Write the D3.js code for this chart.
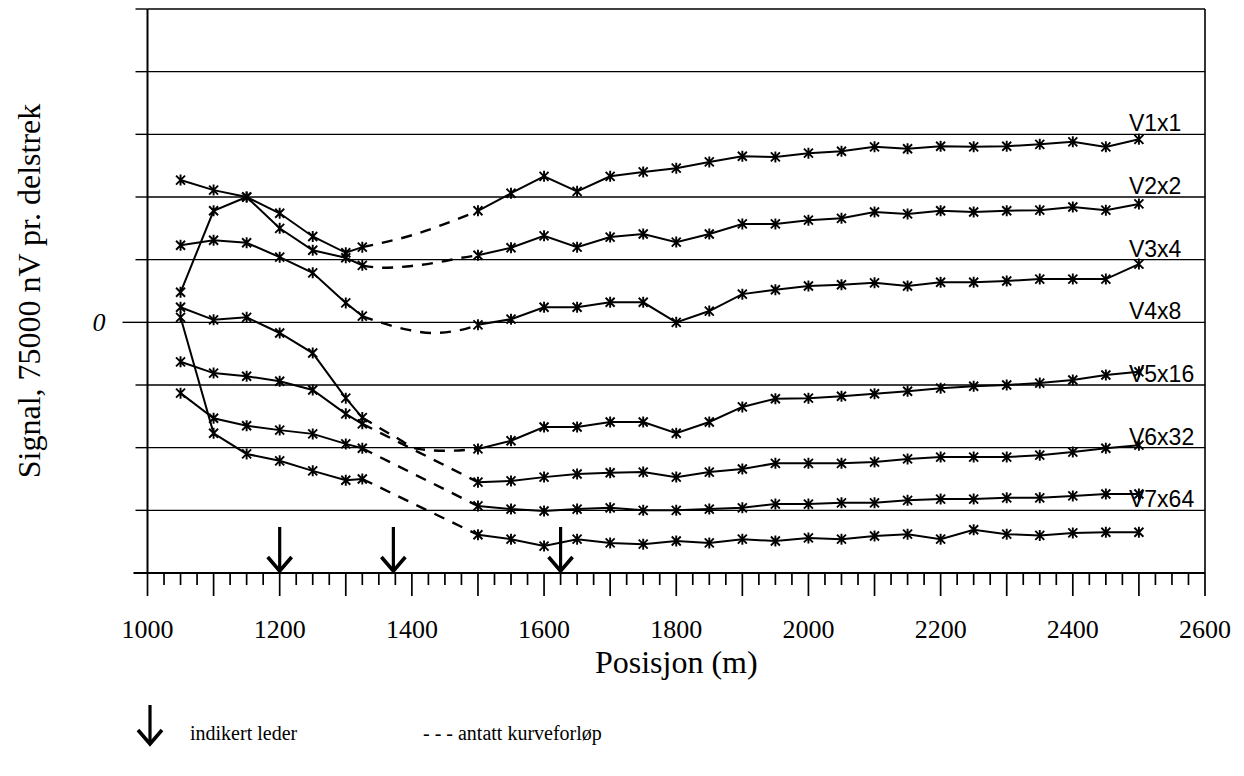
<!DOCTYPE html>
<html><head><meta charset="utf-8">
<script src="https://cdn.jsdelivr.net/npm/d3@7"></script>
<style>body{margin:0;background:#fff}svg{display:block}</style>
</head><body>
<svg id="c" width="1244" height="776"></svg>
<script>
// ---- data ----
const xFirst = [1050, 1100, 1150, 1200, 1250, 1300, 1325];
const xSecond = [1500, 1550, 1600, 1650, 1700, 1750, 1800, 1850, 1900, 1950, 2000,
                 2050, 2100, 2150, 2200, 2250, 2300, 2350, 2400, 2450, 2500];

const v1First = [2.27, 2.11, 2.00, 1.74, 1.37, 1.11, 1.20];
const v1Gap = [[1325, 1.20], [1400, 1.39], [1450, 1.57], [1500, 1.78]];
const v1Second = [1.78, 2.06, 2.33, 2.09, 2.33, 2.40, 2.46, 2.56, 2.65, 2.64, 2.70,
                  2.73, 2.80, 2.77, 2.81, 2.80, 2.81, 2.84, 2.88, 2.80, 2.92];

const v2First = [0.48, 1.78, 2.00, 1.50, 1.15, 1.03, 0.91];
const v2Gap = [[1325, 0.91], [1355, 0.87], [1400, 0.90], [1440, 0.96], [1475, 1.03], [1500, 1.07]];
const v2Second = [1.07, 1.19, 1.38, 1.20, 1.36, 1.41, 1.28, 1.41, 1.57, 1.57, 1.63,
                  1.66, 1.76, 1.73, 1.78, 1.76, 1.78, 1.79, 1.84, 1.79, 1.89];

const v3First = [1.23, 1.31, 1.27, 1.04, 0.79, 0.31, 0.10];
const v3Gap = [[1325, 0.10], [1355, -0.01], [1395, -0.12], [1430, -0.17], [1475, -0.12], [1500, -0.04]];
const v3Second = [-0.04, 0.05, 0.24, 0.24, 0.32, 0.32, 0.00, 0.18, 0.45, 0.52, 0.58,
                  0.60, 0.63, 0.58, 0.64, 0.64, 0.66, 0.69, 0.69, 0.69, 0.93];

const v4First = [0.24, 0.04, 0.08, -0.17, -0.49, -1.21, -1.52];
const v4Gap = [[1325, -1.52], [1375, -1.83], [1410, -2.02], [1450, -2.05], [1500, -2.02]];
const v4Second = [-2.02, -1.89, -1.67, -1.67, -1.59, -1.59, -1.77, -1.59, -1.35, -1.22, -1.21,
                  -1.18, -1.14, -1.10, -1.05, -1.02, -1.00, -0.97, -0.92, -0.84, -0.79];

const v5First = [-0.63, -0.81, -0.86, -0.94, -1.08, -1.46, -1.62];
const v5Gap = [[1325, -1.62], [1500, -2.55]];
const v5Second = [-2.55, -2.53, -2.47, -2.42, -2.40, -2.39, -2.47, -2.39, -2.34, -2.25, -2.25,
                  -2.25, -2.23, -2.18, -2.15, -2.15, -2.15, -2.12, -2.07, -2.01, -1.96];

const v6First = [-1.13, -1.53, -1.65, -1.72, -1.78, -1.94, -2.01];
const v6Gap = [[1325, -2.01], [1500, -2.93]];
const v6Second = [-2.93, -2.98, -3.01, -2.98, -2.96, -3.00, -3.00, -2.98, -2.96, -2.90, -2.90,
                  -2.88, -2.88, -2.84, -2.82, -2.82, -2.80, -2.80, -2.77, -2.74, -2.74];

const v7First = [0.08, -1.77, -2.10, -2.21, -2.37, -2.52, -2.50];
const v7Gap = [[1325, -2.50], [1500, -3.39]];
const v7Second = [-3.39, -3.46, -3.57, -3.46, -3.52, -3.54, -3.49, -3.52, -3.46, -3.49, -3.44,
                  -3.46, -3.41, -3.38, -3.46, -3.31, -3.38, -3.40, -3.36, -3.35, -3.35];

const seriesLabels = ["V1x1", "V2x2", "V3x4", "V4x8", "V5x16", "V6x32", "V7x64"];
const labelLevels = [3, 2, 1, 0, -1, -2, -3];
const labelX = 2485;

const leaderPositions = [1200, 1372, 1625];
const xTickLabels = [1000, 1200, 1400, 1600, 1800, 2000, 2200, 2400, 2600];
const yLevels = [-4, -3, -2, -1, 0, 1, 2, 3, 4, 5];
const yTickLabels = ["0"];

const xTitle = "Posisjon (m)";
const yTitle = "Signal, 75000 nV pr. delstrek";
const legendArrowText = "indikert leder";
const legendDashText = "- - - antatt kurveforløp";

// ---- drawing ----
const svg = d3.select("#c");
const x = d3.scaleLinear().domain([1000, 2600]).range([147.5, 1205]);
const y = d3.scaleLinear().domain([-4, 5]).range([573, 9]);
const serif = "'Liberation Serif','Times New Roman',serif";
const sans = "'Liberation Sans',Arial,sans-serif";

// gridlines
svg.append("g").selectAll("line").data(yLevels.filter(v => v > -4)).join("line")
  .attr("x1", x(1000)).attr("x2", x(2600))
  .attr("y1", d => y(d)).attr("y2", d => y(d))
  .attr("stroke", "#000").attr("stroke-width", 1.4);

// y-axis ticks
svg.append("g").selectAll("line").data(yLevels).join("line")
  .attr("x1", d => d === 0 ? x(1000) - 25 : x(1000) - 12).attr("x2", x(1000))
  .attr("y1", d => y(d)).attr("y2", d => y(d))
  .attr("stroke", "#000").attr("stroke-width", 1.4);

// y axis line and right border
svg.append("line").attr("x1", x(1000)).attr("x2", x(1000)).attr("y1", y(5)).attr("y2", y(-4))
  .attr("stroke", "#000").attr("stroke-width", 2);
svg.append("line").attr("x1", x(2600)).attr("x2", x(2600)).attr("y1", y(5)).attr("y2", y(-4))
  .attr("stroke", "#000").attr("stroke-width", 1.6);

// x axis
const xAxisG = svg.append("g").attr("transform", `translate(0,${y(-4)})`);
xAxisG.append("line").attr("x1", x(1000) - 14).attr("x2", x(2600)).attr("y1", 0).attr("y2", 0)
  .attr("stroke", "#000").attr("stroke-width", 2);
const allTicks = d3.range(1000, 2601, 25);
xAxisG.selectAll("line.tk").data(allTicks).join("line").attr("class", "tk")
  .attr("x1", d => x(d)).attr("x2", d => x(d))
  .attr("y1", 0).attr("y2", d => d % 100 === 0 ? 23 : 12)
  .attr("stroke", "#000").attr("stroke-width", 1.7);
xAxisG.selectAll("text").data(xTickLabels).join("text")
  .attr("x", d => x(d)).attr("y", 65)
  .attr("text-anchor", "middle").attr("font-family", serif).attr("font-size", 26)
  .text(d => d);

// y tick label
svg.append("text").attr("x", 99).attr("y", y(0) + 9).attr("text-anchor", "middle")
  .attr("font-family", serif).attr("font-size", 26).attr("font-style", "italic").text(yTickLabels[0]);

// titles
svg.append("text").attr("x", (x(1000) + x(2600)) / 2).attr("y", 673)
  .attr("text-anchor", "middle").attr("font-family", serif).attr("font-size", 32).text(xTitle);
svg.append("text").attr("transform", `translate(40,${(y(5) + y(-4)) / 2}) rotate(-90)`)
  .attr("text-anchor", "middle").attr("font-family", serif).attr("font-size", 32).text(yTitle);

// series
const series = [
  [v1First, v1Gap, v1Second], [v2First, v2Gap, v2Second], [v3First, v3Gap, v3Second],
  [v4First, v4Gap, v4Second], [v5First, v5Gap, v5Second], [v6First, v6Gap, v6Second],
  [v7First, v7Gap, v7Second]
];
const line = d3.line().x(d => x(d[0])).y(d => y(d[1]));
const dashLine = d3.line().x(d => x(d[0])).y(d => y(d[1])).curve(d3.curveMonotoneX);
const markerPath = "M-4.5,-4.5L4.5,4.5M-4.5,4.5L4.5,-4.5M0,-5.5L0,5.5";

const gS = svg.append("g");
series.forEach(([first, gap, second]) => {
  const a = xFirst.map((xv, i) => [xv, first[i]]);
  const b = xSecond.map((xv, i) => [xv, second[i]]);
  gS.append("path").attr("d", line(a)).attr("fill", "none").attr("stroke", "#000").attr("stroke-width", 2);
  gS.append("path").attr("d", line(b)).attr("fill", "none").attr("stroke", "#000").attr("stroke-width", 2);
  gS.append("path").attr("d", dashLine(gap)).attr("fill", "none").attr("stroke", "#000")
    .attr("stroke-width", 2.4).attr("stroke-dasharray", "11,9");
  gS.selectAll(null).data(a.concat(b)).join("path")
    .attr("transform", d => `translate(${x(d[0])},${y(d[1])})`)
    .attr("d", markerPath).attr("stroke", "#000").attr("stroke-width", 1.9).attr("fill", "none");
});

// series labels
svg.append("g").selectAll("text").data(seriesLabels).join("text")
  .attr("x", x(labelX)).attr("y", (d, i) => y(labelLevels[i]) - 3)
  .attr("font-family", sans).attr("font-size", 23).text(d => d);

// leader arrows
function arrow(g, cx, top, bottom) {
  g.append("line").attr("x1", cx).attr("x2", cx).attr("y1", top).attr("y2", bottom - 2)
    .attr("stroke", "#000").attr("stroke-width", 3.2);
  g.append("path").attr("d", `M${cx - 12},${bottom - 16}L${cx},${bottom - 2}L${cx + 12},${bottom - 16}`)
    .attr("fill", "none").attr("stroke", "#000").attr("stroke-width", 3.6);
}
const gA = svg.append("g");
leaderPositions.forEach(p => arrow(gA, x(p), 527, y(-4)));

// legend
arrow(gA, 150, 705, 746);
svg.append("text").attr("x", 190).attr("y", 740).attr("font-family", serif).attr("font-size", 20).text(legendArrowText);
svg.append("text").attr("x", 423).attr("y", 740).attr("font-family", serif).attr("font-size", 20).text(legendDashText);
</script>
</body></html>
